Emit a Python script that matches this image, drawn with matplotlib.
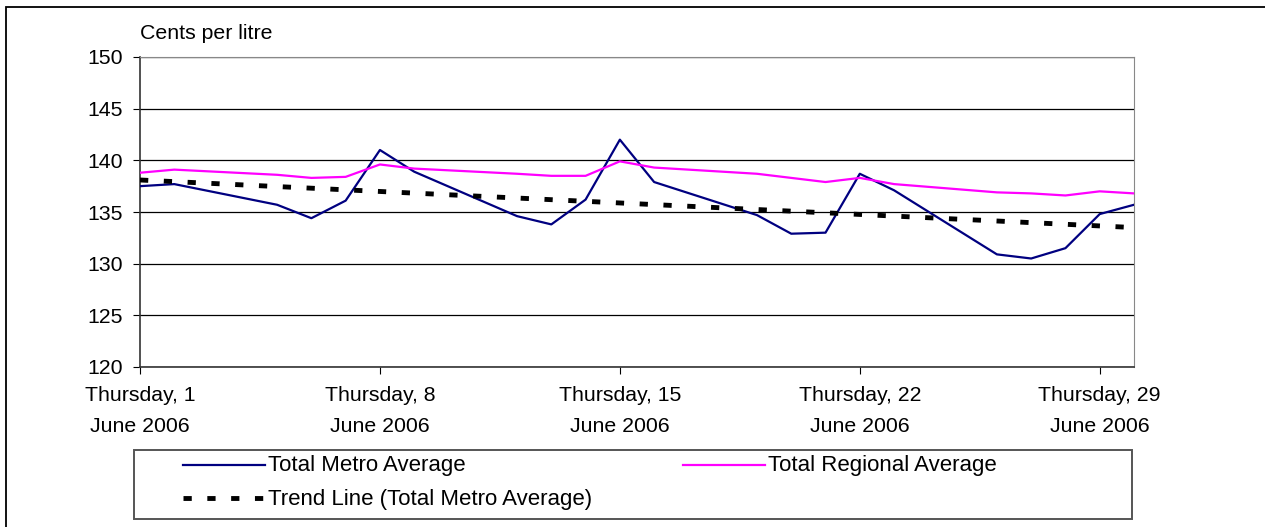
import numpy as np
import matplotlib
matplotlib.use("Agg")
import matplotlib.pyplot as plt
from matplotlib.lines import Line2D
from matplotlib.patches import Rectangle

plt.rcParams['font.family'] = ['Liberation Sans', 'DejaVu Sans']

W, H = 1265, 527

# trading days in June 2006 (weekends have no reading)
days = [1, 2, 5, 6, 7, 8, 9, 12, 13, 14, 15, 16, 19, 20, 21, 22, 23, 26, 27, 28, 29, 30]
metro = [137.5, 137.7, 135.7, 134.4, 136.1, 141.0, 138.9, 134.6, 133.8, 136.2, 142.0,
         137.9, 134.7, 132.9, 133.0, 138.7, 137.1, 130.9, 130.5, 131.5, 134.8, 135.7]
regional = [138.8, 139.1, 138.6, 138.3, 138.4, 139.6, 139.2, 138.7, 138.5, 138.5, 139.9,
            139.3, 138.7, 138.3, 137.9, 138.3, 137.7, 136.9, 136.8, 136.6, 137.0, 136.8]
tick_days = [1, 8, 15, 22, 29]
tick_labels = ["Thursday, 1\nJune 2006", "Thursday, 8\nJune 2006", "Thursday, 15\nJune 2006",
               "Thursday, 22\nJune 2006", "Thursday, 29\nJune 2006"]

# linear trend of the metro series, like the spreadsheet trend line
slope, icpt = np.polyfit(days, metro, 1)
trend_x = [days[0], days[-1]]
trend_y = [icpt + slope * d for d in trend_x]

metro_style = dict(color='#000080', lw=1.6)
regional_style = dict(color='#FF00FF', lw=1.6)
trend_style = dict(color='black', lw=3.5, dashes=(1.7, 3.2), dash_capstyle='butt')

fig = plt.figure(figsize=(W / 100, H / 100), dpi=100)
ax = fig.add_axes([140 / W, 160 / H, 994 / W, 310 / H])

ax.plot(days, metro, zorder=3, **metro_style)
ax.plot(days, regional, zorder=3, **regional_style)
ax.plot(trend_x, trend_y, zorder=4, **trend_style)

ax.set_xlim(1, 30)
ax.set_ylim(120, 150)
ax.set_yticks(range(120, 151, 5))
ax.set_xticks(tick_days)
ax.set_xticklabels(tick_labels, fontsize=15.3, linespacing=1.75)
ax.tick_params(axis='y', labelsize=15.3, length=5, pad=7, direction='out')
ax.tick_params(axis='x', length=5, pad=9, direction='out')
ax.yaxis.grid(True, color='black', lw=0.9)
ax.set_axisbelow(True)
for s in ['top', 'right']:
    ax.spines[s].set_color('#888888')
for s in ['left', 'bottom']:
    ax.spines[s].set_color('#333333')
    ax.spines[s].set_linewidth(1.2)

ax.text(0, 1.045, 'Cents per litre', transform=ax.transAxes, fontsize=15.3, ha='left', va='bottom')


def px(x, y):
    # pixel position (from top-left) to figure fraction
    return x / W, 1 - y / H


# legend box drawn by hand to match the spreadsheet layout
x0, y0 = px(134, 519)
fig.add_artist(Rectangle((x0, y0), 998 / W, 69 / H, transform=fig.transFigure,
                         fill=False, edgecolor='#555555', lw=1.4))
entries = [
    ('Total Metro Average', metro_style, 183, 465),
    ('Total Regional Average', regional_style, 683, 465),
    ('Trend Line (Total Metro Average)', trend_style, 183, 498),
]
for label, style, lx, ly in entries:
    xa, ya = px(lx, ly)
    xb, _ = px(lx + 82, ly)
    fig.add_artist(Line2D([xa, xb], [ya, ya], transform=fig.transFigure, **style))
    xt, yt = px(lx + 85, ly + 1)
    fig.text(xt, yt, label, fontsize=16, ha='left', va='center')

# outer chart border (cropped at right and bottom)
bx, by = px(6, 560)
fig.add_artist(Rectangle((bx, by), 1300 / W, 553 / H, transform=fig.transFigure,
                         fill=False, edgecolor='black', lw=1.3, clip_on=False))

fig.savefig('out.png', dpi=100)
